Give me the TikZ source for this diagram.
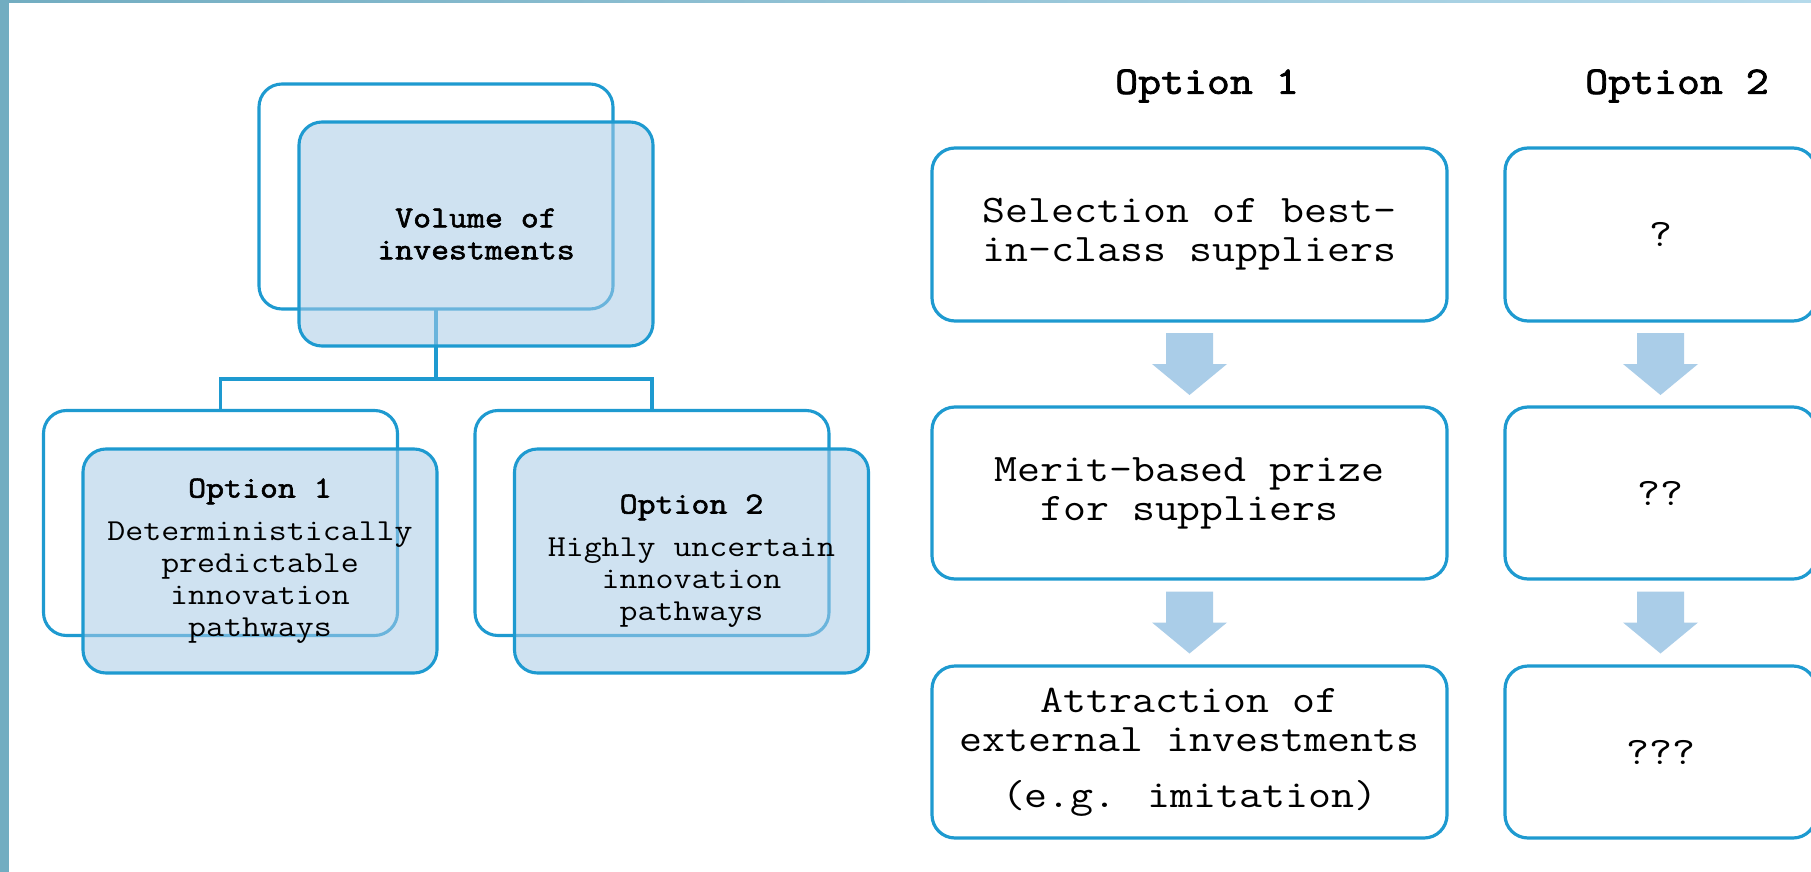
\documentclass[tikz,border=0pt]{standalone}
\usepackage{fontspec}
\newfontfamily\cour[FakeStretch=1.143]{Latin Modern Mono}
\newfontfamily\courb[FakeStretch=1.143,FakeBold=2]{Latin Modern Mono}
\definecolor{edge}{HTML}{1E9AD0}
\definecolor{fillb}{HTML}{A9CBE6}
\definecolor{arr}{HTML}{AACDE8}
\definecolor{bar}{HTML}{72ADC1}
\definecolor{barr}{HTML}{B5DAEB}
\tikzset{
  boxbase/.style={draw=edge, line width=3.1pt, rounded corners=23pt, rectangle, inner sep=0pt, outer sep=0pt, align=center},
  backbox/.style={boxbase, minimum width=354pt, minimum height=225pt},
  frontbox/.style={boxbase, fill=fillb, fill opacity=0.55, text opacity=1, minimum width=354pt, minimum height=224pt,
     font={\cour\fontsize{30.5}{32}\selectfont}},
  rbox/.style={boxbase, line width=3.2pt, minimum height=173pt, font={\cour\fontsize{39}{39}\selectfont}},
  conn/.style={draw=edge, line width=3.1pt},
  head/.style={font={\courb\fontsize{39}{39}\selectfont}, inner sep=0pt},
  flowarrow/.style={fill=arr, draw=none}
}
\begin{document}
\begin{tikzpicture}[x=1pt,y=-1pt]
\clip (0,0) rectangle (1811,872);
\fill[white] (0,0) rectangle (1811,872);
% frame bars
\shade[left color=bar, right color=barr] (0,0) rectangle (1811,3);
\fill[bar] (0,0) rectangle (9,872);

% left tree: back boxes
\node[backbox] (vb) at (436,196.5) {};
\node[backbox] (o1b) at (220.5,523) {};
\node[backbox] (o2b) at (652,523) {};
% connectors
\draw[conn] (vb.south) -- ++(0,70) -| (o1b.north);
\draw[conn] (vb.south) -- ++(0,70) -| (o2b.north);
% front boxes
\node[frontbox] (vf) at (476,234) {{\courb Volume of}\\{\courb investments}};
\node[frontbox] (o1f) at (260,561) {{\courb Option 1}\\[11pt]Deterministically\\predictable\\innovation\\pathways};
\node[frontbox] (o2f) at (691.5,561) {{\courb Option 2}\\[11pt]Highly uncertain\\innovation\\pathways};

% right side headers
\node[head] (h1) at (1207,86) {Option 1};
\node[head] (h2) at (1677,86) {Option 2};

% right boxes
\node[rbox, minimum width=515pt] (s1) at (1189.5,234.5) {Selection of best-\\in-class suppliers};
\node[rbox, minimum width=515pt, minimum height=172pt] (s2) at (1189.5,493) {Merit-based prize\\for suppliers};
\node[rbox, minimum width=515pt, minimum height=172pt] (s3) at (1189.5,752) {Attraction of\\external investments\\[17pt](e.g. imitation)};
\node[rbox, minimum width=311pt] (q1) at (1660.5,234.5) {?};
\node[rbox, minimum width=311pt, minimum height=172pt] (q2) at (1660.5,493) {??};
\node[rbox, minimum width=311pt, minimum height=172pt] (q3) at (1660.5,752) {???};

% flow arrows
\foreach \a/\b/\n in {s1/s2/a1, s2/s3/a2, q1/q2/a3, q2/q3/a4}{
  \path (\a.south) -- (\b.north) coordinate[midway] (\n);
  \fill[flowarrow] (\n) ++(-23.5,-31) -- ++(47,0) -- ++(0,31) -- ++(14,0)
     -- ++(-37.5,31) -- ++(-37.5,-31) -- ++(14,0) -- cycle;
}
\end{tikzpicture}
\end{document}
